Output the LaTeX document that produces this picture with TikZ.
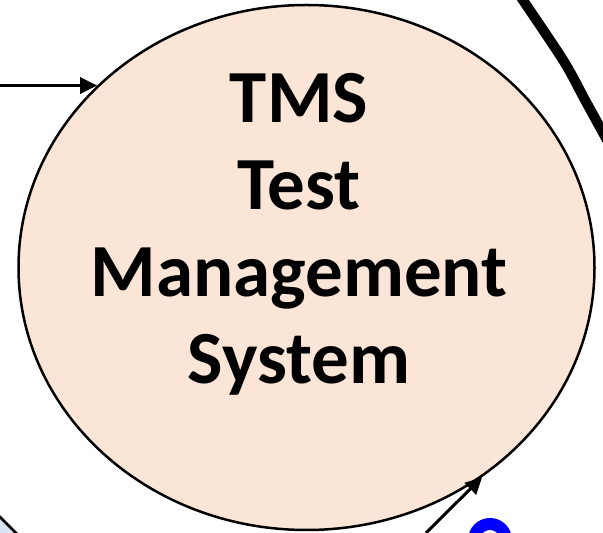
\documentclass[tikz,border=0pt]{standalone}
\usepackage{fontspec}
\setmainfont{Carlito}
\usetikzlibrary{arrows.meta}
\usetikzlibrary{shapes}
\definecolor{peach}{HTML}{FBE5D6}
\definecolor{paleblue}{HTML}{DAE3F3}

\begin{document}
\begin{tikzpicture}[x=1pt,y=1pt]
\useasboundingbox (0,0) rectangle (603,533);
\clip (0,0) rectangle (603,533);
% pieces of the neighbouring shapes
\draw [line width=10pt] plot[smooth] coordinates {(516,543) (563,473) (585,433) (607,393)};
\draw [blue,line width=12pt] (490,-7) circle (16pt);
\filldraw [fill=paleblue,line width=2.5pt] (-6,22) -- (22,-6) -- (-6,-6) -- cycle;
\begin{scope}[every node/.style={ellipse,draw,line width=2.5pt,fill=peach}]
    \node (tms) at (306.5,265.5) [minimum width=576pt,minimum height=525pt,inner sep=0pt] {};
\end{scope}
\node (tmstext) at (299,299) [align=center,inner sep=0pt,
    font=\bfseries\fontsize{75}{87}\selectfont] {TMS\\Test\\Management\\System};
% free ends of the two incoming arrows
\coordinate (src) at (0,0 |- tms.139.4);
\coordinate (feed) at (426,0);
\begin{scope}[>={Triangle[length=17pt,width=16pt]},
              every edge/.style={draw,line width=3pt}]
    \path [->] (src) edge (tms.139.4);
    \path [->] (feed) edge (tms.-50.8);
\end{scope}
\end{tikzpicture}
\end{document}
